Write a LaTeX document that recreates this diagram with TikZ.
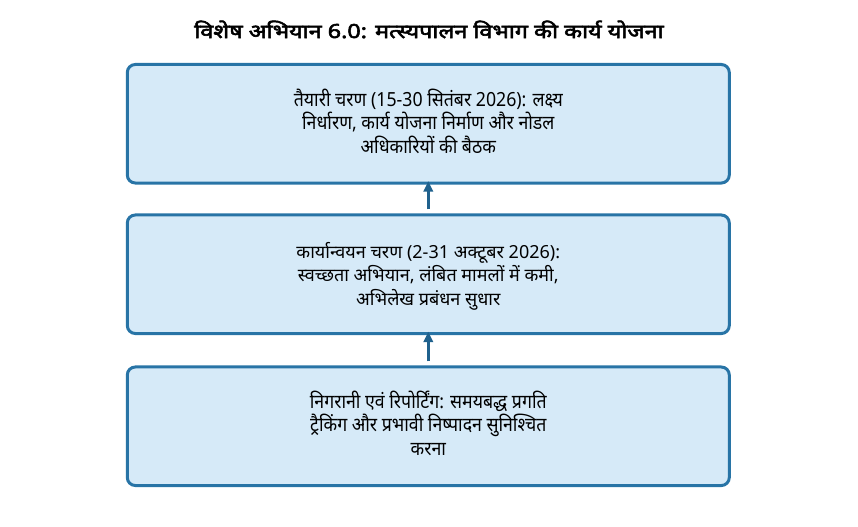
\documentclass[tikz,border=0pt]{standalone}
\usepackage{fontspec}
\setmainfont{Noto Sans}[Script=Devanagari]
\newfontfamily\condfont{Noto Sans}[Script=Devanagari,FakeStretch=0.91]
\newfontfamily\titlefont{Noto Sans}[Script=Devanagari,FakeBold=3,FakeStretch=1.2]
\usetikzlibrary{arrows.meta}
\definecolor{boxfill}{HTML}{D6EAF8}
\definecolor{boxdraw}{HTML}{2874A6}
\definecolor{arrowc}{HTML}{1F618D}
\begin{document}
\begin{tikzpicture}[x=0.75pt,y=-0.75pt,
  stagebox/.style={draw=boxdraw, fill=boxfill, line width=2.25pt, rounded corners=6pt,
    minimum width=451.5pt, minimum height=88.9pt, inner sep=0pt},
  normtext/.style={align=center, inner sep=0pt, font=\fontsize{13.5}{17.4}\selectfont},
  condtext/.style={align=center, inner sep=0pt, font=\condfont\fontsize{14.6}{17.6}\selectfont},
  flowarrow/.style={draw=arrowc, line width=2.25pt, -{Triangle[length=8pt,width=7pt]}},
  titletext/.style={font=\titlefont\fontsize{14.6}{18}\selectfont}]
\useasboundingbox (0,0) rectangle (858,526);
\node[titletext, anchor=base] (title) at (429,38) {विशेष अभियान 6.0: मत्स्यपालन विभाग की कार्य योजना};
\node[stagebox] (b1) at (428.3,123.75) {};
\node[stagebox] (b2) at (428.3,274.25) {};
\node[stagebox] (b3) at (428.3,426.25) {};
\node[condtext] (t1) at ([yshift=1.9pt]b1.center) {तैयारी चरण (15-30 सितंबर 2026): लक्ष्य\\ निर्धारण, कार्य योजना निर्माण और नोडल\\ अधिकारियों की बैठक};
\node[normtext] (t2) at ([yshift=-1.5pt]b2.center) {कार्यान्वयन चरण (2-31 अक्टूबर 2026):\\ स्वच्छता अभियान, लंबित मामलों में कमी,\\ अभिलेख प्रबंधन सुधार};
\node[condtext] (t3) at ([yshift=2.2pt]b3.center) {निगरानी एवं रिपोर्टिंग: समयबद्ध प्रगति\\ ट्रैकिंग और प्रभावी निष्पादन सुनिश्चित\\ करना};
\draw[flowarrow] ([yshift=3pt]b2.north) -- ([yshift=2.6pt]b1.south);
\draw[flowarrow] ([yshift=3pt]b3.north) -- ([yshift=2.6pt]b2.south);
\end{tikzpicture}
\end{document}
